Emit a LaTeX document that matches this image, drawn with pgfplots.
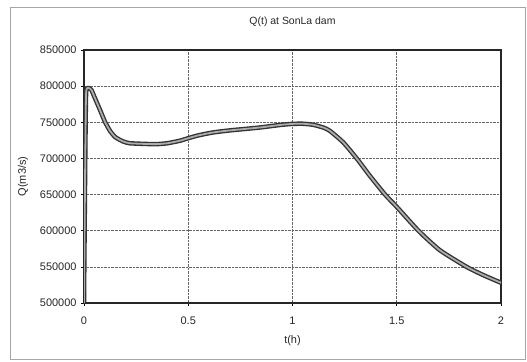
\documentclass[border=0pt]{standalone}
\usepackage{fontspec}
\setmainfont{Liberation Sans}
\usepackage{pgfplots}
\pgfplotsset{compat=1.18}

\pgfplotstableread{
t Q
0 500000
0.002 570000
0.006 700000
0.01 790000
0.02 797500
0.035 795000
0.05 785000
0.077 767000
0.1 751000
0.125 738000
0.15 729500
0.187 723500
0.22 721000
0.3 720000
0.35 719800
0.4 721000
0.46 724500
0.5 728000
0.55 732000
0.62 736000
0.7 738800
0.78 741000
0.85 743000
0.94 746300
1.0 747800
1.05 748000
1.1 746500
1.15 742500
1.18 738000
1.244 722000
1.308 700000
1.372 675600
1.444 650000
1.5 633000
1.604 600000
1.707 573000
1.835 550000
1.915 538600
2.0 528000
}\flowdata

\begin{document}
\begin{tikzpicture}[x=1bp,y=1bp]
  % page extent and chart frame
  \path (-84,-58) rectangle (443,303);
  \draw[gray!70, line width=0.6bp] (-74,-56) rectangle (441,296);
  \begin{axis}[
    at={(0,0)}, anchor=south west,
    scale only axis, width=417bp, height=253bp,
    xmin=0, xmax=2, ymin=500000, ymax=850000,
    xtick={0,0.5,1,1.5,2},
    xticklabels={0,0.5,1,1.5,2},
    ytick={500000,550000,600000,650000,700000,750000,800000,850000},
    yticklabels={500000,550000,600000,650000,700000,750000,800000,850000},
    scaled ticks=false,
    tick label style={font=\fontsize{11}{12}\selectfont, black!85},
    yticklabel style={xshift=-1bp},
    xticklabel style={yshift=-7bp},
    tick align=outside, major tick length=3bp,
    xtick pos=bottom, ytick pos=left,
    tick style={black, line width=0.6bp},
    axis line style={black!85, line width=1.2bp},
    grid=major,
    major grid style={black!60, densely dotted, line width=0.6bp},
  ]
    \addplot[black!80, line width=4.5bp, smooth, tension=0.35, line join=round] table[x=t, y=Q] {\flowdata};
    \addplot[gray!65, line width=1.8bp, smooth, tension=0.35, line join=round] table[x=t, y=Q] {\flowdata};
  \end{axis}
  % title and axis labels
  \node[font=\fontsize{10.5}{12}\selectfont, black!85] at (208.5,281) {Q(t) at SonLa dam};
  \node[font=\fontsize{11}{12}\selectfont, black!85] at (208.5,-38) {t(h)};
  \node[rotate=90, font=\fontsize{11}{12}\selectfont, black!85] at (-61,126.5) {Q(m3/s)};
\end{tikzpicture}
\end{document}
